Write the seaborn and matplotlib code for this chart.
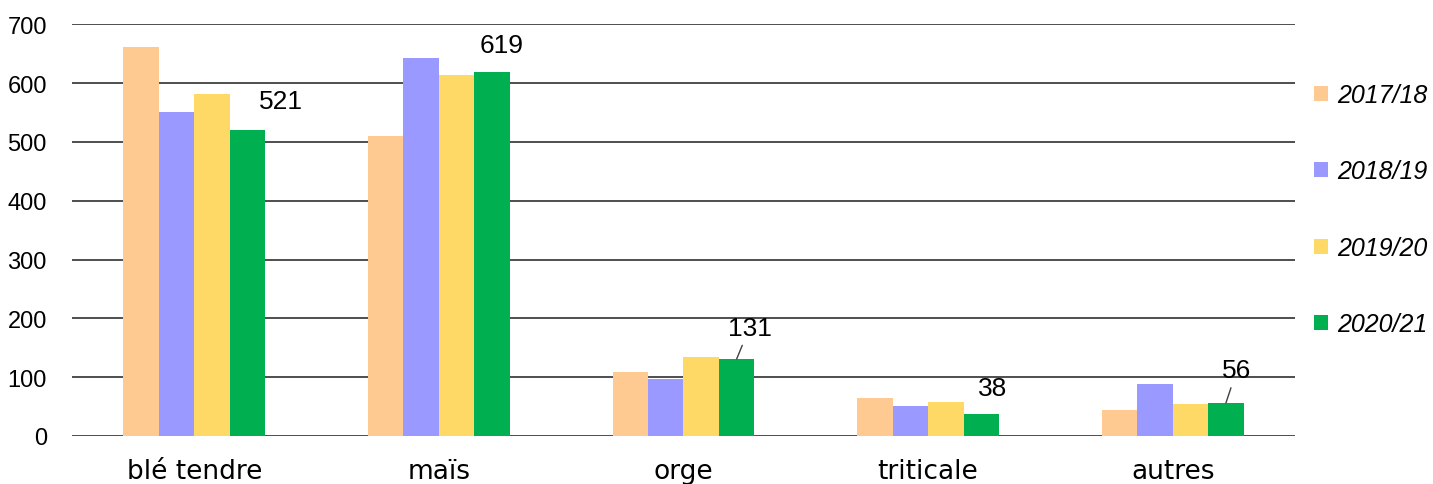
import pandas as pd
import seaborn as sns
import matplotlib.pyplot as plt

# values (thousand tonnes)
cultures = ['blé tendre', 'maïs', 'orge', 'triticale', 'autres']
campagnes = ['2017/18', '2018/19', '2019/20', '2020/21']
v_2017 = [662, 510, 109, 65, 44]
v_2018 = [550, 642, 97, 51, 88]
v_2019 = [581, 613, 134, 58, 54]
v_2020 = [521, 619, 131, 38, 56]
couleurs = ['#FFC992', '#9999FF', '#FFD966', '#00B050']

df = pd.DataFrame({
    'culture': cultures * 4,
    'campagne': [c for c in campagnes for _ in cultures],
    'valeur': v_2017 + v_2018 + v_2019 + v_2020,
})

sns.set_style('white')
plt.rcParams['font.family'] = ['Liberation Sans', 'DejaVu Sans']
plt.rcParams['text.color'] = 'black'
plt.rcParams['xtick.color'] = 'black'
plt.rcParams['ytick.color'] = 'black'

fig = plt.figure(figsize=(14.33, 4.85), dpi=100)
ax = fig.add_axes([0.0502, 0.099, 0.8535, 0.849])

sns.barplot(data=df, x='culture', y='valeur', hue='campagne',
            palette=couleurs, width=0.58, saturation=1,
            edgecolor='none', linewidth=0, ax=ax)

ax.set_ylim(0, 700)
ax.set_xlim(-0.5, 4.5)
ax.set_yticks(range(0, 701, 100))
ax.yaxis.grid(True, color='#404040', linewidth=1.3)
ax.set_axisbelow(True)
for s in ax.spines.values():
    s.set_visible(False)
ax.set_xlabel('')
ax.set_ylabel('')
ax.tick_params(axis='y', labelsize=17, length=0, pad=18)
ax.tick_params(axis='x', length=0, pad=16)
for lab in ax.get_xticklabels():
    lab.set_fontfamily('DejaVu Sans')
    lab.set_fontsize(19)

# labels on the 2020/21 bars
green = ax.containers[3]
offsets = [(0.137, 28, False), (0.04, 26, False), (0.053, 33, True), (0.045, 23, False), (0.045, 36, True)]
for bar, val, (dx, dy, leader) in zip(green, v_2020, offsets):
    xc = bar.get_x() + bar.get_width() / 2
    top = bar.get_height()
    if leader:
        ax.annotate(str(val), xy=(xc, top), xytext=(xc + dx, top + dy),
                    ha='center', va='bottom', fontsize=19,
                    arrowprops=dict(arrowstyle='-', color='#404040', lw=1,
                                    shrinkA=2, shrinkB=0))
    else:
        ax.text(xc + dx, top + dy, str(val), ha='center', va='bottom', fontsize=19)

leg = ax.legend(loc='upper left', bbox_to_anchor=(0.997, 0.912), frameon=False,
                handlelength=0.55, handleheight=0.55, handletextpad=0.4,
                labelspacing=2.1, fontsize=18)
for t in leg.get_texts():
    t.set_fontstyle('italic')

fig.savefig('out.png', dpi=100)
